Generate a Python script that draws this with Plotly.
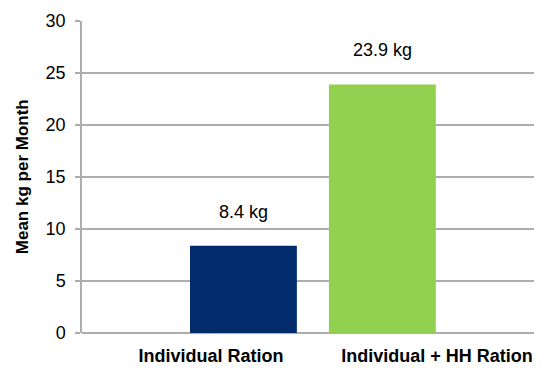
import plotly.graph_objects as go

categories = ["Individual Ration", "Individual + HH Ration"]
values = [8.4, 23.9]
value_labels = ["8.4 kg", "23.9 kg"]
colors = ["#002b6d", "#92d050"]
y_ticks = [0, 5, 10, 15, 20, 25, 30]

FONT = "Liberation Sans, Arial, sans-serif"
GRID_COLOR = "#adadad"
BAR_WIDTH = 0.473
# the bars sit off their category centres in the source chart
bar_offsets = [-0.093, -0.478]

fig = go.Figure(
    go.Bar(
        x=categories,
        y=values,
        width=BAR_WIDTH,
        offset=bar_offsets,
        marker=dict(color=colors, line=dict(width=0)),
        showlegend=False,
        hoverinfo="skip",
    )
)

for idx, (val, label) in enumerate(zip(values, value_labels)):
    fig.add_annotation(
        x=idx + bar_offsets[idx] + BAR_WIDTH / 2,
        y=val,
        text=label,
        showarrow=False,
        xanchor="center",
        yanchor="middle",
        yshift=34,
        font=dict(family=FONT, size=18, color="#000000"),
    )

fig.add_annotation(
    text="<b>Mean kg per Month</b>",
    xref="paper",
    yref="paper",
    x=-0.13,
    y=0.5,
    xanchor="center",
    yanchor="middle",
    textangle=-90,
    showarrow=False,
    font=dict(family=FONT, size=17, color="#000000"),
)

# page body adds an 8px margin, so the figure is trimmed to fit the window
fig.update_layout(
    width=534,
    height=360,
    margin=dict(l=74, r=0, t=13, b=35),
    paper_bgcolor="white",
    plot_bgcolor="white",
    font=dict(family=FONT, size=18, color="#000000"),
    xaxis=dict(
        type="category",
        range=[-0.571, 1.465],
        showgrid=False,
        showline=False,
        ticks="",
        ticklabelstandoff=10,
        tickfont=dict(family=FONT, size=18, color="#000000", weight="bold"),
        fixedrange=True,
    ),
    yaxis=dict(
        range=[0, 30],
        tickvals=y_ticks,
        showgrid=True,
        gridcolor=GRID_COLOR,
        gridwidth=1.5,
        zeroline=True,
        zerolinecolor=GRID_COLOR,
        zerolinewidth=1.5,
        showline=True,
        linecolor=GRID_COLOR,
        linewidth=1.5,
        ticks="outside",
        ticklen=5,
        tickcolor=GRID_COLOR,
        tickwidth=1.5,
        ticklabelstandoff=6,
        tickfont=dict(family=FONT, size=18, color="#000000"),
        fixedrange=True,
    ),
)

fig.write_html("out.html")
